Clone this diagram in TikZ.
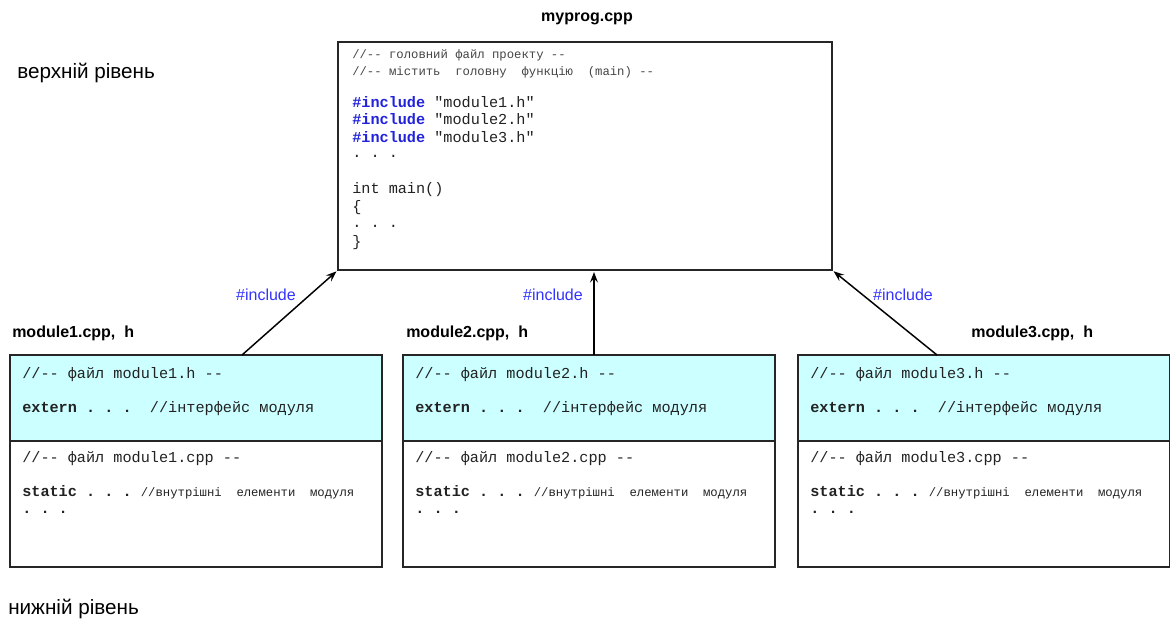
\documentclass[tikz,border=0pt]{standalone}
\usepackage{fontspec}
\setmainfont{Liberation Sans}
\setmonofont{Liberation Mono}
\usetikzlibrary{arrows.meta,fit}
\definecolor{hcyan}{HTML}{CCFFFF}
\definecolor{incblue}{HTML}{3333FF}
\definecolor{kwblue}{HTML}{2222DD}
\definecolor{codegray}{HTML}{222222}
\definecolor{cmtgray}{HTML}{444444}
\begin{document}
\begin{tikzpicture}[x=0.75pt,y=-0.75pt,
 box/.style={draw=black!85, line width=1.5pt, inner sep=0pt, outer sep=0pt},
 code/.style={anchor=mid west, inner sep=0pt, font=\fontsize{11.4}{13}\selectfont\ttfamily, text=codegray},
 smallcode/.style={anchor=mid west, inner sep=0pt, font=\fontsize{9.2}{11}\selectfont\ttfamily, text=cmtgray},
 flabel/.style={font=\fontsize{12}{14}\selectfont\bfseries, inner sep=0pt, anchor=mid west},
 inc/.style={font=\fontsize{12}{14}\selectfont, text=incblue, inner sep=0pt},
 level/.style={font=\fontsize{15.5}{18}\selectfont, anchor=mid west, inner sep=0pt},
 arr/.style={-{Stealth[length=8pt,width=6pt,inset=3pt]}, line width=1.1pt, shorten >=1.5pt}]
\useasboundingbox (0,0) rectangle (1170,619);

% level labels
\node[level] (top) at (17,75) {верхній рівень};
\node[level] (bot) at (8,611) {нижній рівень};

% main file
\node[flabel, anchor=center] (mainlbl) at (587,19) {myprog.cpp};
\node[box, fit={(338,42) (832,270)}] (main) {};
\node[smallcode] (c1) at (352,55) {//--~головний~файл~проекту~--};
\node[smallcode] (c2) at (352,72) {//--~містить~~головну~~функцію~~(main)~--};
\node[code] (c3) at (352,104) {\textcolor{kwblue}{\bfseries\#include}~"module1.h"};
\node[code] (c4) at (352,121) {\textcolor{kwblue}{\bfseries\#include}~"module2.h"};
\node[code] (c5) at (352,139) {\textcolor{kwblue}{\bfseries\#include}~"module3.h"};
\node[code] (c6) at (352,154) {.~.~.};
\node[code] (c7) at (352,190) {int~main()};
\node[code] (c8) at (352,208) {\{};
\node[code] (c9) at (352,224) {.~.~.};
\node[code] (c10) at (352,243) {\}};

% modules
\foreach \i/\dx in {1/0, 2/393, 3/788} {
  \node[box, fill=hcyan, fit={(10+\dx,355) (382+\dx,441)}] (mh\i) {};
  \node[box, fit={(10+\dx,441) (382+\dx,567)}] (mc\i) {};
  \node[code] (h1\i) at (22+\dx,375) {//--~файл~module\i.h~--};
  \node[code] (h2\i) at (22+\dx,409) {\bfseries extern~.~.~.\mdseries~~//інтерфейс~модуля};
  \node[code] (p1\i) at (22+\dx,459) {//--~файл~module\i.cpp~--};
  \node[code] (p2\i) at (22+\dx,493) {\bfseries static~.~.~.\mdseries~{\fontsize{9.2}{11}\selectfont //внутрішні~~елементи~~модуля}};
  \node[code] (p3\i) at (22+\dx,510) {\bfseries .~.~.};
}

\node[flabel] (l1) at (12,334) {module1.cpp,\ \ h};
\node[flabel] (l2) at (406,334) {module2.cpp,\ \ h};
\node[flabel] (l3) at (971,334) {module3.cpp,\ \ h};

% arrows
\coordinate (s1) at (242,355);
\coordinate (s2) at (594,355);
\coordinate (s3) at (937,355);
\draw[arr] (s1) -- (main.south west);
\draw[arr] (s2) -- (main.south -| s2);
\draw[arr] (s3) -- (main.south east);

\node[inc] (i1) at (266,295) {\#include};
\node[inc] (i2) at (553,295) {\#include};
\node[inc] (i3) at (903,295) {\#include};
\end{tikzpicture}
\end{document}
